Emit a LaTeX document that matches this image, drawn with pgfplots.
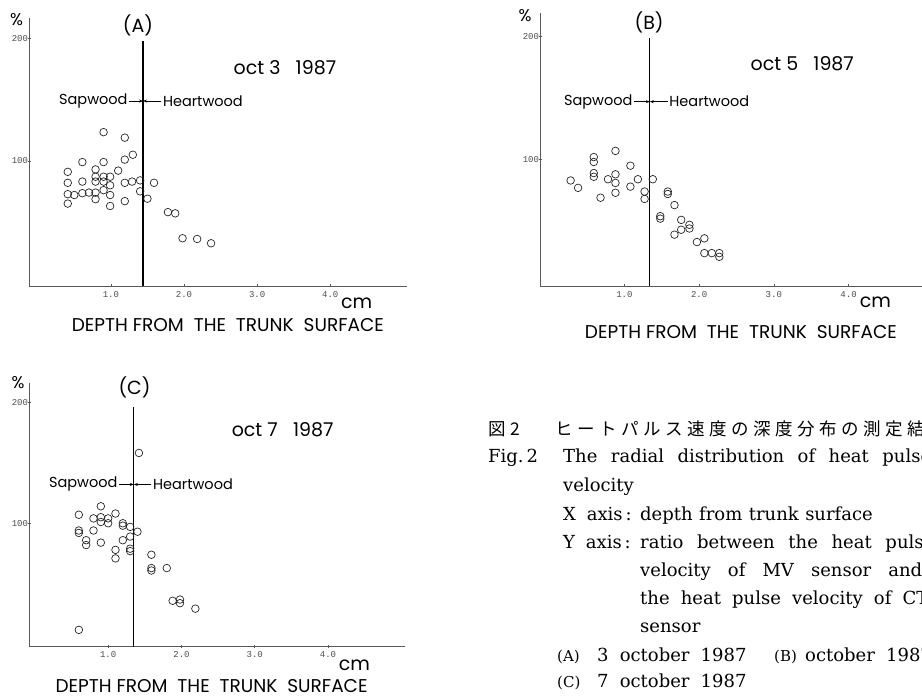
\documentclass[border=0pt]{standalone}
\usepackage{fontspec}
\setmainfont{Liberation Serif}
\newfontfamily\plotfont{Poppins}
\newfontfamily\tickfont{Liberation Mono}
\newfontfamily\capfont{DejaVu Serif}
\newfontfamily\jpfont[LetterSpace=26]{Noto Sans CJK JP}
\usepackage{pgfplots}
\pgfplotsset{compat=1.18}
\usetikzlibrary{arrows.meta}

\pgfplotsset{
  panel/.style={
    scale only axis, anchor=south west,
    axis x line=bottom, axis y line=left,
    axis line style={black!65, line width=0.8pt, -},
    xtick={1,2,3,4}, xticklabels={1.0,2.0,3.0,4.0},
    ytick={100,200}, yticklabels={100,200},
    tick style={black!65, line width=0.6pt},
    major tick length=3pt,
    tick label style={font=\tickfont\fontsize{9}{9}\selectfont, text=black!70},
    yticklabel style={xshift=4pt},
    clip=false,
  },
  pts/.style={only marks, mark=o, mark size=3.8pt, mark options={line width=0.7pt, black!85}},
  div/.style={black, line width=1.3pt, no marks},
}
\newcommand\fbig{\plotfont\fontsize{19}{19}\selectfont}
\newcommand\fmid{\plotfont\fontsize{19}{19}\selectfont}
\newcommand\fdep{\plotfont\fontsize{18.5}{18.5}\selectfont}
\newcommand\fsml{\plotfont\fontsize{14.5}{14.5}\selectfont}
\newcommand\fpct{\plotfont\fontsize{17}{17}\selectfont}
\newcommand\capb{\capfont\fontsize{18}{18}\selectfont}
\newcommand\capl{\capfont\fontsize{15}{15}\selectfont}

\begin{document}
\begin{tikzpicture}
\useasboundingbox (0,0) rectangle (922pt,699pt);
\clip (0,0) rectangle (922pt,699pt);

% ---------------- Panel A ----------------
\begin{axis}[panel, at={(29pt,413pt)}, width=378pt, height=268pt,
  xmin=-0.12, xmax=5.05, ymin=-2.5, ymax=217]
\addplot[pts] coordinates {
(0.90,123.5) (1.19,119) (1.30,105) (1.19,101) (0.61,99) (0.90,99)
(0.79,93) (1.10,92) (0.41,91) (0.41,82) (0.61,83) (0.79,87) (0.90,87)
(0.99,87) (0.79,83) (0.90,83) (0.99,80) (1.19,82) (1.29,83) (1.40,84)
(1.59,82) (0.41,72.7) (0.50,72) (0.61,73.5) (0.70,74) (0.79,74) (0.90,76)
(0.99,72) (1.40,75) (0.79,68.6) (0.41,65) (0.99,63) (1.19,67) (1.50,69)
(1.78,58) (1.88,57) (1.98,36.6) (2.18,36) (2.37,32.5)
};
\addplot[div] coordinates {(1.44,-2.5) (1.44,198)};
\node[font=\fbig] at (axis cs:1.37,211) {(A)};
\node[font=\fmid] at (axis cs:3.38,176) {oct 3\ \ \ 1987};
\node[font=\fsml, anchor=east, inner sep=0] at (axis cs:1.23,149) {Sapwood};
\node[font=\fsml, anchor=west, inner sep=0] at (axis cs:1.71,149) {Heartwood};
\draw[-{Stealth[length=4pt,width=3pt]}, line width=0.6pt] (axis cs:1.25,149) -- (axis cs:1.44,149);
\draw[-{Stealth[length=4pt,width=3pt]}, line width=0.6pt] (axis cs:1.69,149) -- (axis cs:1.44,149);
\node[font=\fpct] at (axis cs:-0.29,215.6) {\%};
\node[font=\fmid] at (axis cs:4.36,-16.4) {cm};
\node[font=\fdep] at (axis cs:2.60,-34.8) {DEPTH FROM\ \ THE\ \ TRUNK\ \ SURFACE};
\end{axis}

% ---------------- Panel B ----------------
\begin{axis}[panel, at={(540pt,413pt)}, width=387pt, height=273pt,
  xmin=-0.13, xmax=5.05, ymin=-2.7, ymax=219]
\addplot[pts] coordinates {
(0.28,83) (0.38,77) (0.59,102) (0.59,98) (0.59,89) (0.59,86) (0.68,69)
(0.78,84) (0.88,107) (0.88,88) (0.88,81) (0.88,73) (1.08,95) (1.08,78)
(1.18,84) (1.27,74) (1.27,68) (1.38,84) (1.48,54) (1.48,52) (1.58,74)
(1.58,72) (1.67,63) (1.67,39) (1.76,51) (1.76,43) (1.87,47) (1.87,44)
(1.97,33) (2.07,36) (2.07,24) (2.17,24) (2.27,24) (2.27,21)
};
\addplot[div] coordinates {(1.34,-2.7) (1.34,199)};
\node[font=\fbig] at (axis cs:1.33,211) {(B)};
\node[font=\fmid] at (axis cs:3.38,178) {oct 5\ \ \ 1987};
\node[font=\fsml, anchor=east, inner sep=0] at (axis cs:1.11,147) {Sapwood};
\node[font=\fsml, anchor=west, inner sep=0] at (axis cs:1.60,147) {Heartwood};
\draw[-{Stealth[length=4pt,width=3pt]}, line width=0.6pt] (axis cs:1.13,147) -- (axis cs:1.34,147);
\draw[-{Stealth[length=4pt,width=3pt]}, line width=0.6pt] (axis cs:1.58,147) -- (axis cs:1.34,147);
\node[font=\fpct] at (axis cs:-0.33,217) {\%};
\node[font=\fmid] at (axis cs:4.36,-15.9) {cm};
\node[font=\fdep] at (axis cs:2.56,-39.7) {DEPTH FROM\ \ THE\ \ TRUNK\ \ SURFACE};
\end{axis}

% ---------------- Panel C ----------------
\begin{axis}[panel, at={(29pt,52.3pt)}, width=376pt, height=264pt,
  xmin=-0.08, xmax=5.05, ymin=-1.9, ymax=216]
\addplot[pts] coordinates {
(1.42,158) (0.60,107) (0.90,114) (1.10,108) (0.80,104) (0.90,105)
(0.90,101) (1.00,104) (1.00,100) (1.20,100) (1.20,98) (1.30,97) (1.40,93)
(0.60,94) (0.60,92) (0.80,94) (0.70,86) (0.70,82) (0.90,84) (1.20,86)
(1.30,89) (1.30,79) (1.30,77) (1.10,78) (1.10,71) (1.59,74) (1.59,63)
(1.59,61) (1.80,63) (1.88,36) (1.98,37) (1.98,34) (2.19,29.5) (0.60,12)
};
\addplot[div] coordinates {(1.35,-1.9) (1.35,196)};
\node[font=\fbig] at (axis cs:1.36,212) {(C)};
\node[font=\fmid] at (axis cs:3.38,177) {oct 7\ \ \ 1987};
\node[font=\fsml, anchor=east, inner sep=0] at (axis cs:1.13,132) {Sapwood};
\node[font=\fsml, anchor=west, inner sep=0] at (axis cs:1.61,132) {Heartwood};
\draw[-{Stealth[length=4pt,width=3pt]}, line width=0.6pt] (axis cs:1.15,132) -- (axis cs:1.35,132);
\draw[-{Stealth[length=4pt,width=3pt]}, line width=0.6pt] (axis cs:1.59,132) -- (axis cs:1.35,132);
\node[font=\fpct] at (axis cs:-0.23,215.7) {\%};
\node[font=\fmid] at (axis cs:4.36,-17) {cm};
\node[font=\fdep] at (axis cs:2.41,-34.0) {DEPTH FROM\ \ THE\ \ TRUNK\ \ SURFACE};
\end{axis}

% ---------------- Caption ----------------
\begin{scope}[every node/.style={anchor=base west, inner sep=0}]
\node at (488pt,263pt) {\jpfont\fontsize{17.5}{17.5}\selectfont 図2};
\node at (555pt,263pt) {\jpfont\fontsize{17.5}{17.5}\selectfont ヒートパルス速度の深度分布の測定結果};
\node at (488pt,236pt) {\capb Fig.\,2};
\node at (563pt,236pt) {\capb\spaceskip=0.75em The radial distribution of heat pulse};
\node at (563pt,207pt) {\capb velocity};
\node at (563pt,178pt) {\capb\spaceskip=0.6em X axis\,:};
\node at (640pt,178pt) {\capb\spaceskip=0.36em depth from trunk surface};
\node at (563pt,150pt) {\capb\spaceskip=0.6em Y axis\,:};
\node at (640pt,150pt) {\capb\spaceskip=0.76em ratio between the heat pulse};
\node at (640pt,122pt) {\capb\spaceskip=0.95em velocity of MV sensor and};
\node at (640pt,94pt) {\capb\spaceskip=0.62em the heat pulse velocity of CT};
\node at (640pt,66pt) {\capb sensor};
\node at (557pt,37pt) {\capl (A)};
\node at (597pt,37pt) {\capb\spaceskip=0.62em 3 october 1987};
\node at (774pt,37pt) {\capl (B)};
\node at (805pt,37pt) {\capb\spaceskip=0.62em october 1987};
\node at (557pt,11pt) {\capl (C)};
\node at (597pt,11pt) {\capb\spaceskip=0.62em 7 october 1987};
\end{scope}
\end{tikzpicture}
\end{document}
